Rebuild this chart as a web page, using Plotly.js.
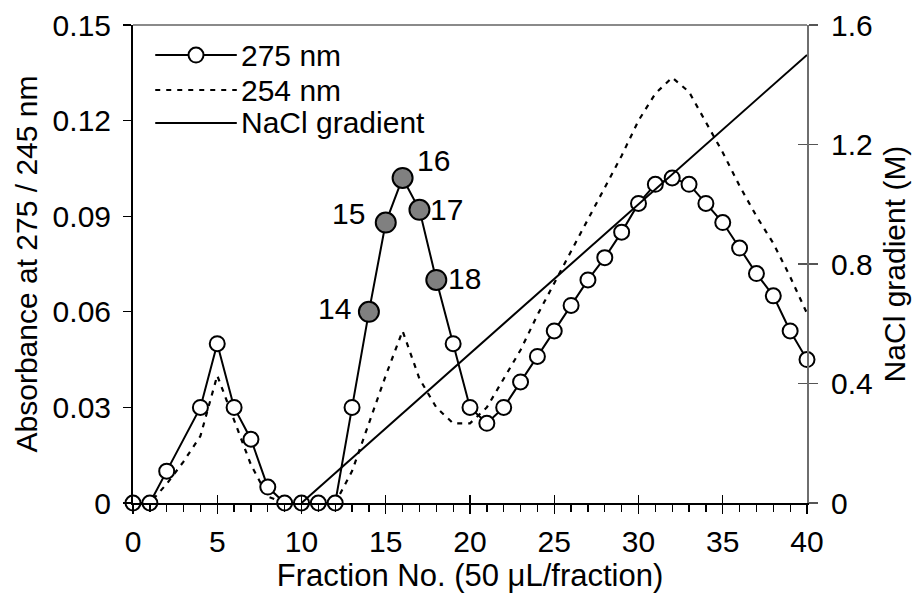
<!DOCTYPE html>
<html>
<head>
<meta charset="utf-8">
<script src="https://cdn.plot.ly/plotly-3.0.1.min.js"></script>
<style>
  html, body { margin: 0; padding: 0; background: #ffffff; }
  #chart { width: 917px; height: 600px; }
</style>
</head>
<body>
<div id="chart"></div>
<script>
// Elution profile: absorbance of each fraction and the salt gradient.
const fraction275 = [0, 1, 2, 4, 5, 6, 7, 8, 9, 10, 11, 12, 13, 14, 15, 16, 17, 18, 19, 20,
  21, 22, 23, 24, 25, 26, 27, 28, 29, 30, 31, 32, 33, 34, 35, 36, 37, 38, 39, 40];
const abs275 = [0, 0, 0.01, 0.03, 0.05, 0.03, 0.02, 0.005, 0, 0, 0, 0, 0.03, 0.06, 0.088, 0.102, 0.092, 0.07, 0.05, 0.03,
  0.025, 0.03, 0.038, 0.046, 0.054, 0.062, 0.07, 0.077, 0.085, 0.094, 0.1, 0.102, 0.1, 0.094, 0.088, 0.08, 0.072, 0.065, 0.054, 0.045];

const fraction254 = [0, 1, 2, 3, 4, 5, 6, 7, 8, 9, 10, 11, 12, 13, 14, 15, 16, 17, 18, 19, 20,
  21, 22, 23, 24, 25, 26, 27, 28, 29, 30, 31, 32, 33, 34, 35, 36, 37, 38, 39, 40];
const abs254 = [0, 0, 0.006, 0.013, 0.021, 0.04, 0.026, 0.012, 0.002, 0, 0, 0, 0, 0.01, 0.025, 0.04, 0.054, 0.039, 0.03, 0.025, 0.025,
  0.03, 0.039, 0.048, 0.059, 0.069, 0.079, 0.089, 0.099, 0.109, 0.12, 0.1285, 0.1335, 0.129, 0.1195, 0.11, 0.0995, 0.09, 0.0815, 0.071, 0.0595];

const fractionNaCl = [10, 40];
const naclMolar = [0, 1.5];

// Fractions pooled for further work (filled grey and numbered).
const pooledFractions = [14, 15, 16, 17, 18];

const xTickValues = [0, 5, 10, 15, 20, 25, 30, 35, 40];
const yTickValues = [0, 0.03, 0.06, 0.09, 0.12, 0.15];
const y2TickValues = [0, 0.4, 0.8, 1.2, 1.6];

const legendLabels = ['275 nm', '254 nm', 'NaCl gradient'];

// ---- styling ----
const FONT = 'Arial, "Liberation Sans", sans-serif';
const FS = 30;
const INK = '#000000';
const POOL_FILL = '#808080';

// label placement for the numbered points: [xanchor, xshift, yshift]
const labelPlacement = {
  14: ['right', -16, 3],
  15: ['right', -19, 9],
  16: ['left', 12, 17],
  17: ['left', 9, 0],
  18: ['left', 10, 1]
};

const isPooled = fraction275.map(f => pooledFractions.includes(f));

const traces = [
  {
    name: legendLabels[1],
    x: fraction254, y: abs254,
    mode: 'lines',
    line: { color: INK, width: 2.2, dash: '5px,6px' },
    showlegend: false, hoverinfo: 'skip'
  },
  {
    name: legendLabels[0],
    x: fraction275, y: abs275,
    mode: 'lines+markers',
    cliponaxis: false,
    line: { color: INK, width: 2 },
    marker: {
      symbol: 'circle',
      opacity: 1,
      size: isPooled.map(p => p ? 20 : 15),
      color: isPooled.map(p => p ? POOL_FILL : '#ffffff'),
      line: { color: INK, width: 2 }
    },
    showlegend: false, hoverinfo: 'skip'
  },
  {
    name: legendLabels[2],
    x: fractionNaCl, y: naclMolar,
    xaxis: 'x', yaxis: 'y2',
    mode: 'lines',
    line: { color: INK, width: 2 },
    showlegend: false, hoverinfo: 'skip'
  },
  // carriers for the cross-tick overlay axes
  { x: [0, 40], y: [0, 0], xaxis: 'x2', yaxis: 'y', mode: 'none', showlegend: false, hoverinfo: 'skip' },
  { x: [0, 40], y: [0, 0], xaxis: 'x', yaxis: 'y3', mode: 'none', showlegend: false, hoverinfo: 'skip' }
];

const annotations = [];
fraction275.forEach((f, i) => {
  if (!isPooled[i]) return;
  const p = labelPlacement[f];
  annotations.push({
    x: f, y: abs275[i], xref: 'x', yref: 'y',
    text: String(f), showarrow: false,
    xanchor: p[0], yanchor: 'middle', xshift: p[1], yshift: p[2],
    font: { family: FONT, size: FS, color: INK }
  });
});

// legend drawn inside the plot, top left
const legRowY = [0.937, 0.864, 0.795];
const legX0 = 0.033, legX1 = 0.154, legTextX = 0.158;
const shapes = [
  // grey frame line along the top
  { type: 'line', xref: 'paper', yref: 'paper', x0: 0, x1: 1, y0: 1, y1: 1,
    line: { color: '#8a8a8a', width: 2 } }
];
legendLabels.forEach((lab, k) => {
  annotations.push({
    x: legTextX, y: legRowY[k], xref: 'paper', yref: 'paper',
    text: lab, showarrow: false, xanchor: 'left', yanchor: 'middle',
    font: { family: FONT, size: FS, color: INK }
  });
  shapes.push({
    type: 'line', xref: 'paper', yref: 'paper',
    x0: legX0, x1: legX1, y0: legRowY[k], y1: legRowY[k],
    line: { color: INK, width: 2, dash: k === 1 ? '5px,6px' : 'solid' }
  });
});
shapes.push({
  type: 'circle', xref: 'paper', yref: 'paper',
  xsizemode: 'pixel', ysizemode: 'pixel',
  xanchor: (legX0 + legX1) / 2, yanchor: legRowY[0],
  x0: -7.5, x1: 7.5, y0: -7.5, y1: 7.5,
  fillcolor: '#ffffff', line: { color: INK, width: 2 }
});

const tickFont = { family: FONT, size: FS, color: INK };

const layout = {
  width: 917, height: 600,
  margin: { l: 133, r: 110, t: 25, b: 97, pad: 0 },
  paper_bgcolor: '#ffffff', plot_bgcolor: '#ffffff',
  showlegend: false,
  font: { family: FONT, size: FS, color: INK },
  xaxis: {
    range: [0, 40], tickvals: xTickValues, ticktext: xTickValues.map(String),
    ticks: 'outside', ticklen: 9, tickwidth: 1.3, tickcolor: INK,
    minor: { dtick: 1, ticks: 'outside', ticklen: 7, tickwidth: 1.3, tickcolor: INK },
    showline: true, linecolor: INK, linewidth: 2,
    showgrid: false, zeroline: false, tickfont: tickFont, ticklabelstandoff: 2,
    title: { text: 'Fraction No. (50 μL/fraction)', font: { family: FONT, size: 31, color: INK }, standoff: 7 },
    automargin: false, fixedrange: true
  },
  xaxis2: {
    overlaying: 'x', anchor: 'y', side: 'bottom', range: [0, 40],
    tickvals: xTickValues, ticks: 'inside', ticklen: 8, tickwidth: 1.3, tickcolor: INK,
    showticklabels: false, showline: false, showgrid: false, zeroline: false, fixedrange: true
  },
  yaxis: {
    range: [0, 0.15], tickvals: yTickValues, ticktext: yTickValues.map(v => v === 0 ? '0' : v.toFixed(2)),
    ticks: 'outside', ticklen: 8, tickwidth: 1.3, tickcolor: INK,
    showline: true, linecolor: INK, linewidth: 2,
    showgrid: false, zeroline: false, tickfont: tickFont, ticklabelstandoff: 6,
    title: { text: 'Absorbance at 275 / 245 nm', font: tickFont, standoff: 6 },
    automargin: false, fixedrange: true
  },
  yaxis2: {
    overlaying: 'y', side: 'right', anchor: 'x', range: [0, 1.6],
    tickvals: y2TickValues, ticktext: y2TickValues.map(v => v === 0 ? '0' : v.toFixed(1)),
    ticks: 'outside', ticklen: 9, tickwidth: 1.3, tickcolor: '#555555',
    showline: true, linecolor: '#6e6e6e', linewidth: 2,
    showgrid: false, zeroline: false, tickfont: tickFont, ticklabelstandoff: 7,
    title: { text: 'NaCl gradient (M)', font: tickFont, standoff: 12 },
    automargin: false, fixedrange: true
  },
  yaxis3: {
    overlaying: 'y', side: 'right', anchor: 'x', range: [0, 1.6],
    tickvals: y2TickValues, ticks: 'inside', ticklen: 9, tickwidth: 1.3, tickcolor: '#555555',
    showticklabels: false, showline: false, showgrid: false, zeroline: false, fixedrange: true
  },
  annotations: annotations,
  shapes: shapes
};

Plotly.newPlot('chart', traces, layout, { staticPlot: true, displayModeBar: false });
</script>
</body>
</html>
